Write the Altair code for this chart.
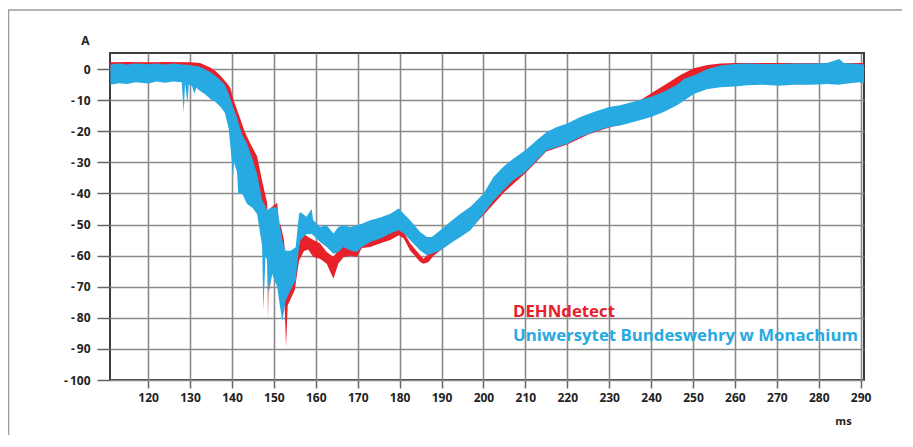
import altair as alt
import pandas as pd

RED = "#e8202a"
BLUE = "#27a9e1"

# Blue trace (Uniwersytet Bundeswehry w Monachium): envelope of the noisy band
blue_ms = [111, 113, 115, 117, 120, 122, 124, 126, 128, 128.5, 128.8, 129.4, 129.7, 130.5, 131, 131.5,
           132.4, 133.5, 134.8, 136, 137.2, 138.3, 139.2, 140, 140.2, 140.5, 141.2, 141.5, 142.4, 143.6,
           144.8, 146, 147.2, 147.5, 148, 148.4, 148.8, 149.6, 150.8, 151.2, 152, 152.8, 154, 155.2,
           156, 156.4, 157.8, 159, 159.4, 161, 162.6, 164.2, 165.4, 166.6, 168.2, 169.8, 171, 173,
           175.4, 177.8, 179.8, 181, 182.5, 184.9, 186.5, 187.7, 189.7, 192.1, 194.5, 196.9, 200,
           202.4, 204.7, 207.1, 210, 212.7, 215.1, 217.5, 220, 223.1, 226.3, 230, 232.6, 235.8, 240,
           243, 246.2, 248, 250.2, 253.3, 256.5, 260, 263, 266.7, 270.6, 274, 278.5, 282, 284.9, 286,
           289.6, 290.8]
blue_lo = [-5, -4.5, -4.8, -4.2, -4.6, -4.0, -4.4, -4.0, -4.2, -14, -4.5, -11, -5, -5.5, -8, -6,
           -7, -8, -9.5, -10.5, -12, -14, -19, -30, -35, -30, -33, -40, -40, -43.4,
           -44.5, -46.6, -57, -77.7, -60, -61.6, -72, -66, -70, -74, -81, -74.5, -71, -68,
           -57.3, -55, -53, -53, -53.4, -55.6, -57.2, -59.4, -58.8, -57.2, -58.3, -58.8, -57.2, -55.6,
           -54.5, -52.9, -51.8, -52.9, -55, -58.3, -59.9, -59.4, -58.3, -56.1, -54, -51.8, -46.6,
           -42.3, -39, -35.8, -33.1, -29.4, -26.1, -25.1, -24, -21.8, -20.2, -18.6, -18.1, -17, -15.4,
           -13.8, -11.6, -10, -8, -6.5, -5.8, -5.6, -5.2, -5, -5.3, -5, -5, -4.8, -5, -4.8,
           -4.2, -4.5]
blue_hi = [1.5, 1.8, 1.5, 1.8, 1.6, 1.8, 1.5, 1.8, 1.5, 1.5, 1.5, 1.3, 1.3, 1.2, 1.0, 1.0,
           0.8, 0, -0.9, -2, -3.5, -5, -7.8, -11, -12, -13, -15.5, -17, -20.9, -24,
           -28.4, -33.8, -42, -43, -44, -45.5, -45, -44.5, -44.5, -48, -55, -58.4, -58.4, -57.3,
           -46.6, -46, -47.5, -45, -48.6, -50.8, -50.2, -52.9, -50.8, -50.2, -50.8, -50.2, -49.7, -48.6,
           -47.7, -46.5, -44.8, -46.5, -48.6, -52.4, -54, -54, -51.8, -49.1, -46.5, -44.3, -40.1,
           -34.7, -31.5, -28.8, -26.1, -22.9, -20.2, -18.6, -17.5, -15.4, -13.8, -12.2, -11.6, -10.5, -8.9,
           -7.3, -5, -3, -2, 0, 1.2, 1.7, 1.8, 1.7, 1.7, 1.8, 1.8, 2.0, 3.3, 2.0,
           1.7, 1.5]

# Red trace (DEHNdetect): envelope of the noisy band
red_ms = [111, 115, 120, 125, 130, 132.4, 134.8, 136, 137.2, 138.8, 139.6, 140.4, 142, 143, 144.4,
          146, 147.2, 148.4, 148.6, 148.9, 150.8, 151.2, 151.6, 152.4, 152.9, 153.3, 155, 156, 157.2,
          158.2, 159.4, 161, 162.6, 164.2, 165.4, 166.6, 168.2, 169.8, 171, 173, 175.4, 177.8, 179.8,
          181, 182.5, 184.9, 185.7, 186.9, 188.1, 190, 193, 196, 200, 205, 210, 215, 220, 225, 230,
          235, 238, 240.6, 243.8, 247, 250.2, 253.5, 256.5, 260, 270, 280, 290.8]
red_lo = [-0.5, -0.3, -0.5, -0.3, -0.5, -1, -2.5, -3.5, -5, -8, -10, -18, -24, -27, -33,
          -38, -43, -56, -81, -55, -60, -70, -60, -70, -89.5, -76, -71, -61.6, -58.5,
          -58, -60.4, -61, -62.6, -67.4, -62.5, -60.5, -60, -60.4, -57.5, -57.2, -56, -55, -53.4,
          -54.5, -58.3, -62, -62.6, -62, -60, -58, -55, -52.5, -47, -39.5, -33.5, -26.5, -24.2, -21, -18.8,
          -17, -15, -11, -8, -5.5, -3, -1.5, -0.5, -0.5, -0.5, -0.5, -0.5]
red_hi = [2.2, 2.3, 2.2, 2.3, 2.2, 2, 0.5, -0.5, -2, -4.5, -6, -10, -16, -20, -24,
          -28, -36, -43, -50, -45, -43, -50, -50, -55, -62, -60, -60, -53, -53,
          -54, -55, -56, -58.8, -60.4, -58, -57, -56.5, -57.3, -55, -55, -53.8, -52.5, -51.5,
          -52.5, -56, -59.9, -61, -59.5, -57, -55, -51, -47, -42, -33, -28, -21.5, -19, -15.5, -13.5,
          -11.5, -9.5, -7.3, -4.6, -1.9, 0.3, 1.3, 1.8, 2.0, 2.0, 2.0, 2.0]

x_ticks = list(range(120, 300, 10))
y_ticks = list(range(-100, 10, 10))
labels = ["DEHNdetect", "Uniwersytet Bundeswehry w Monachium"]

blue = pd.DataFrame({"ms": blue_ms, "lo": blue_lo, "hi": blue_hi})
red = pd.DataFrame({"ms": red_ms, "lo": red_lo, "hi": red_hi})

FONT = "Open Sans"
xs = alt.Scale(domain=[110.9, 290.8], nice=False, zero=False)
ys = alt.Scale(domain=[-100, 5.2], nice=False, zero=False)

xaxis = alt.Axis(values=x_ticks, title="ms", titleX=733, titleY=41.5, titleAlign="center",
                 titleBaseline="middle", titleFontSize=11, titleFontWeight="bold", titleColor="#222",
                 titleFont=FONT, labelFont=FONT, labelFontSize=12, labelFontWeight="bold",
                 labelColor="#222", labelPadding=4, tickSize=8, tickColor="#666", tickWidth=1.5,
                 grid=True, gridColor="#8a8a8a", gridWidth=1.6, domain=False)
yaxis = alt.Axis(values=y_ticks, title="A", titleAngle=0, titleX=-25, titleY=-13, titleAlign="center",
                 titleBaseline="middle", titleFontSize=12, titleFontWeight="bold", titleColor="#222",
                 titleFont=FONT, labelFont=FONT, labelFontSize=12, labelFontWeight="bold",
                 labelColor="#222", labelPadding=7, tickSize=13, tickColor="#666", tickWidth=1.5,
                 grid=True, gridColor="#8a8a8a", gridWidth=1.6, domain=False,
                 labelExpr="datum.value < 0 ? '-\u2009' + abs(datum.value) : datum.label")

X = alt.X("ms:Q", scale=xs, axis=xaxis)
Y = alt.Y("lo:Q", scale=ys, axis=yaxis)

red_area = alt.Chart(red).mark_area(color=RED, opacity=1).encode(x=X, y=Y, y2="hi:Q")
blue_area = alt.Chart(blue).mark_area(color=BLUE, opacity=1).encode(x=X, y=Y, y2="hi:Q")

lab = pd.DataFrame({"t": labels})
txt_red = alt.Chart(lab.iloc[[0]]).mark_text(font=FONT, fontSize=16.8, fontWeight="bold", color=RED,
                                              align="left", baseline="alphabetic").encode(
    text="t:N", x=alt.value(403), y=alt.value(264))
txt_blue = alt.Chart(lab.iloc[[1]]).mark_text(font=FONT, fontSize=16.8, fontWeight="bold", color=BLUE,
                                               align="left", baseline="alphabetic").encode(
    text="t:N", x=alt.value(403), y=alt.value(288))

one = pd.DataFrame({"a": [0]})
frame_top = alt.Chart(one).mark_rule(color="#9a9a9a", strokeWidth=1.5).encode(
    x=alt.value(-102), x2=alt.value(800), y=alt.value(-43))
frame_left = alt.Chart(one).mark_rule(color="#9a9a9a", strokeWidth=1.5).encode(
    x=alt.value(-101.5), y=alt.value(-43), y2=alt.value(400))

chart = alt.layer(red_area, blue_area, txt_red, txt_blue, frame_top, frame_left).properties(
    width=754, height=327,
    autosize=alt.AutoSizeParams(type="none"),
    padding={"left": 102, "top": 45, "right": 38, "bottom": 55},
    background="white",
).configure_view(stroke="#3d3d3d", strokeWidth=2)

chart.save("out.html", embed_options={"renderer": "svg", "actions": False})
